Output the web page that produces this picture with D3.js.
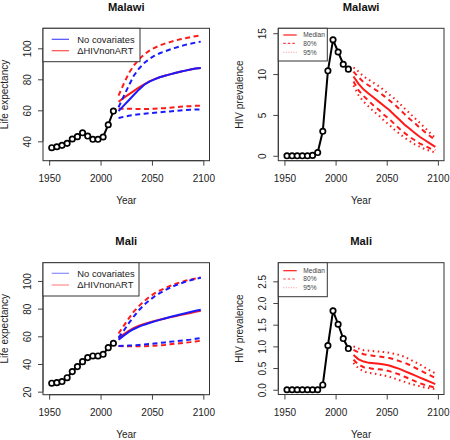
<!DOCTYPE html>
<html><head><meta charset="utf-8">
<script src="https://cdn.jsdelivr.net/npm/d3@7"></script>
<style>body{margin:0;background:#fff} svg{display:block}</style>
</head><body><svg id="c" width="450" height="440"></svg>
<script>
// ---------- data ----------
const obsYears  = [1952.5,1957.5,1962.5,1967.5,1972.5,1977.5,1982.5,1987.5,1992.5,1997.5,2002.5,2007.5,2012.5];
const projYears = [2017.5,2022.5,2027.5,2032.5,2037.5,2042.5,2047.5,2052.5,2057.5,2062.5,2067.5,2072.5,2077.5,2082.5,2087.5,2092.5,2097.5];
const xTicks = [1950,2000,2050,2100];

// Malawi life expectancy
const malawiLEObs = [35.9,36.5,37.4,38.7,41.5,43.0,45.5,43.4,41.3,41.3,42.8,50.7,59.5];
const malawiNoCovMed = [59.5,63.0,66.5,70.0,73.5,76.5,78.5,80.0,81.3,82.3,83.2,84.1,84.9,85.6,86.3,86.9,87.3];
const malawiNoCovUp  = [62.0,69.0,76.0,82.5,87.0,90.5,93.2,95.2,96.8,98.0,99.2,100.3,101.3,102.2,103.0,103.7,104.3];
const malawiNoCovLo  = [55.0,55.8,56.5,57.0,57.4,57.8,58.1,58.4,58.7,59.0,59.3,59.6,59.9,60.1,60.3,60.5,60.6];
const malawiHIVMed   = [65.5,68.0,70.3,72.5,74.8,76.8,78.7,80.1,81.3,82.3,83.2,84.1,84.9,85.6,86.3,86.9,87.3];
const malawiHIVUp    = [69.5,77.0,84.0,89.0,93.0,96.0,98.5,100.3,101.8,103.0,104.0,105.0,105.8,106.5,107.2,107.8,108.3];
const malawiHIVLo    = [61.0,61.0,61.0,60.9,60.8,60.8,60.9,61.0,61.2,61.4,61.7,62.0,62.3,62.5,62.7,62.9,63.0];
const leTicksMalawi = [40,60,80,100];

// Malawi HIV prevalence
const malawiPrevObs = [0,0,0,0,0,0.05,0.4,3.0,10.4,14.2,12.7,11.2,10.6];
const malawiPrevMed = [9.7,8.8,8.1,7.6,7.1,6.6,6.1,5.6,5.0,4.4,3.8,3.3,2.8,2.3,1.9,1.5,1.1];
const malawiPrevU80 = [10.3,9.6,9.0,8.6,8.2,7.8,7.3,6.8,6.3,5.7,5.1,4.5,4.0,3.4,2.9,2.4,1.9];
const malawiPrevL80 = [9.1,8.0,7.3,6.7,6.1,5.6,5.0,4.5,3.9,3.3,2.8,2.3,1.9,1.5,1.2,0.9,0.7];
const malawiPrevU95 = [10.8,10.3,9.7,9.3,8.9,8.5,8.0,7.5,7.0,6.4,5.8,5.2,4.6,4.0,3.4,2.8,2.2];
const malawiPrevL95 = [8.6,7.4,6.6,6.0,5.4,4.9,4.3,3.8,3.2,2.7,2.2,1.8,1.4,1.1,0.8,0.6,0.4];
const prevTicksMalawi = [0,5,10,15];
const prevTickLabelsMalawi = ["0","5","10","15"];

// Mali life expectancy
const maliLEObs = [26.1,26.5,27.3,30.1,34.5,38.1,41.7,44.6,45.8,45.8,47.0,51.8,55.0];
const maliNoCovMed = [57.5,60.5,63.2,65.3,67.0,68.4,69.6,70.8,71.9,72.9,73.9,74.9,75.8,76.7,77.6,78.4,79.2];
const maliNoCovUp  = [59.0,64.0,69.5,74.5,79.0,82.8,86.0,88.8,91.2,93.3,95.1,96.7,98.1,99.4,100.5,101.5,102.3];
const maliNoCovLo  = [53.0,53.1,53.3,53.5,53.8,54.1,54.4,54.8,55.2,55.6,56.0,56.4,56.8,57.2,57.6,58.2,58.8];
const maliHIVMed   = [58.5,61.5,64.0,66.0,67.6,68.9,70.0,71.0,72.0,72.9,73.7,74.5,75.3,76.1,76.9,77.7,78.5];
const maliHIVUp    = [62.0,67.5,73.0,78.0,82.0,85.5,88.5,91.0,93.0,94.8,96.4,97.8,99.0,100.1,101.0,101.8,102.5];
const maliHIVLo    = [53.0,52.9,52.8,52.8,52.8,52.9,53.0,53.2,53.5,53.8,54.2,54.6,55.0,55.4,55.8,56.3,56.8];
const leTicksMali = [20,40,60,80,100];

// Mali HIV prevalence
const maliPrevObs = [0,0,0,0,0,0,0,0.11,1.02,1.82,1.51,1.18,0.95];
const maliPrevMed = [0.80,0.70,0.65,0.62,0.61,0.60,0.58,0.56,0.52,0.48,0.43,0.38,0.33,0.28,0.23,0.18,0.13];
const maliPrevU80 = [0.92,0.86,0.82,0.80,0.78,0.77,0.75,0.73,0.70,0.66,0.62,0.57,0.51,0.45,0.39,0.33,0.27];
const maliPrevL80 = [0.69,0.58,0.52,0.50,0.48,0.47,0.46,0.43,0.39,0.35,0.30,0.25,0.20,0.15,0.11,0.08,0.05];
const maliPrevU95 = [1.00,0.95,0.91,0.90,0.89,0.88,0.87,0.85,0.83,0.80,0.76,0.70,0.64,0.58,0.51,0.44,0.38];
const maliPrevL95 = [0.62,0.49,0.42,0.39,0.37,0.35,0.33,0.30,0.26,0.22,0.18,0.14,0.11,0.08,0.05,0.03,0.02];
const prevTicksMali = [0,0.5,1,1.5,2,2.5];
const prevTickLabelsMali = ["0.0","0.5","1.0","1.5","2.0","2.5"];

const leLegendLabels = ["No covariates","\u0394HIVnonART"];
const prevLegendLabels = ["Median","80%","95%"];

// ---------- drawing ----------
const FONT = "'Liberation Sans', Arial, Helvetica, sans-serif";
const svg = d3.select("#c").style("font-family", FONT);
const BLUE = "#1a1aff", RED = "#ff1a1a", INK = "#222";

function panel(o) {
  const g = svg.append("g");
  const x = d3.scaleLinear().domain([1944, 2106]).range([o.l, o.r]);
  const y = d3.scaleLinear().domain(o.yDomain).range([o.b, o.t]);
  // x axis
  const xa = g.append("g").attr("transform", `translate(0,${o.b})`)
    .call(d3.axisBottom(x).tickValues(xTicks).tickSize(5).tickPadding(4).tickFormat(d3.format("d")));
  xa.select(".domain").attr("d", `M${x(xTicks[0])},0H${x(xTicks[xTicks.length-1])}`).attr("stroke", "#444");
  xa.selectAll(".tick line").attr("stroke", "#444");
  xa.selectAll("text").attr("font-size", 10).attr("fill", INK).attr("font-family", FONT)
    .attr("dy", null).attr("y", 21);
  // y axis
  const ya = g.append("g").attr("transform", `translate(${o.l},0)`)
    .call(d3.axisLeft(y).tickValues(o.yTicks).tickSize(5).tickFormat((d,i) => o.yLabels ? o.yLabels[i] : d));
  ya.select(".domain").attr("d", `M0,${y(o.yTicks[0])}V${y(o.yTicks[o.yTicks.length-1])}`).attr("stroke", "#444");
  ya.selectAll(".tick line").attr("stroke", "#444");
  ya.selectAll("text").attr("font-size", 10).attr("fill", INK).attr("font-family", FONT)
    .attr("x", null).attr("dy", null).attr("text-anchor", "middle")
    .attr("transform", "translate(-12,0) rotate(-90)");
  // box
  g.append("rect").attr("x", o.l).attr("y", o.t).attr("width", o.r - o.l).attr("height", o.b - o.t)
    .attr("fill", "none").attr("stroke", "#333").attr("stroke-width", 1);
  // titles
  g.append("text").attr("x", (o.l + o.r) / 2).attr("y", o.t - 17.8).attr("text-anchor", "middle")
    .attr("font-size", 11.2).attr("font-weight", "bold").attr("fill", "#111").text(o.title);
  g.append("text").attr("x", (o.l + o.r) / 2).attr("y", o.b + 43).attr("text-anchor", "middle")
    .attr("font-size", 10).attr("fill", INK).text("Year");
  g.append("text").attr("transform", `translate(${o.l - 35},${(o.t + o.b) / 2}) rotate(-90)`)
    .attr("text-anchor", "middle").attr("font-size", 10).attr("fill", INK).text(o.yTitle);
  return {g, x, y};
}

function drawLine(p, xs, ys, color, width, dash) {
  const line = d3.line().x(d => p.x(d[0])).y(d => p.y(d[1]));
  p.g.append("path").datum(d3.zip(xs, ys)).attr("d", line)
    .attr("fill", "none").attr("stroke", color).attr("stroke-width", width)
    .attr("stroke-dasharray", dash || null);
}

function drawObs(p, vals) {
  drawLine(p, obsYears, vals, "#000", 2);
  p.g.append("g").selectAll("circle").data(d3.zip(obsYears, vals)).join("circle")
    .attr("cx", d => p.x(d[0])).attr("cy", d => p.y(d[1])).attr("r", 2.7)
    .attr("fill", "#fff").attr("stroke", "#000").attr("stroke-width", 1.7);
}

function leLegend(p, o, colors) {
  const lg = p.g.append("g");
  lg.append("rect").attr("x", o.l).attr("y", o.t).attr("width", o.lw).attr("height", o.lh)
    .attr("fill", "#fff").attr("stroke", "#333").attr("stroke-width", 1);
  leLegendLabels.forEach((t, i) => {
    const yy = o.t + o.rows[i];
    lg.append("line").attr("x1", o.l + 8.7).attr("x2", o.l + 26).attr("y1", yy).attr("y2", yy)
      .attr("stroke", colors[i]).attr("stroke-width", 1.2);
    lg.append("text").attr("x", o.l + 34.3).attr("y", yy + 3.4).attr("font-size", 9.4).attr("fill", INK).text(t);
  });
}

function prevLegend(p, o) {
  const lg = p.g.append("g");
  lg.append("rect").attr("x", o.l).attr("y", o.t).attr("width", 49).attr("height", o.lh)
    .attr("fill", "#fff").attr("stroke", "#333").attr("stroke-width", 1);
  const styles = [[RED, null, 1.2], ["#ff4040", "2.5,2", 1.2], ["#ffaaaa", "1,1.5", 1.2]];
  prevLegendLabels.forEach((t, i) => {
    const yy = o.t + o.rows[i];
    lg.append("line").attr("x1", o.l + 5).attr("x2", o.l + 18.4).attr("y1", yy).attr("y2", yy)
      .attr("stroke", styles[i][0]).attr("stroke-width", styles[i][2]).attr("stroke-dasharray", styles[i][1]);
    lg.append("text").attr("x", o.l + 25).attr("y", yy + 2.3).attr("font-size", 6.6).attr("fill", "#444").text(t);
  });
}

const DASH = "5,3.5";

// Panel 1: Malawi LE
const o1 = {l: 43, r: 209.5, t: 28.3, b: 160.7, yDomain: [27.5, 112.9], yTicks: leTicksMalawi,
  title: "Malawi", yTitle: "Life expectancy", lw: 97, lh: 33.4, rows: [11, 22.4]};
const p1 = panel(o1);
drawObs(p1, malawiLEObs);
drawLine(p1, projYears, malawiHIVUp, RED, 2, DASH);
drawLine(p1, projYears, malawiHIVLo, RED, 2, DASH);
drawLine(p1, projYears, malawiHIVMed, RED, 2);
drawLine(p1, projYears, malawiNoCovUp, BLUE, 2, DASH);
drawLine(p1, projYears, malawiNoCovLo, BLUE, 2, DASH);
drawLine(p1, projYears, malawiNoCovMed, BLUE, 2);
leLegend(p1, o1, ["#4d4dff", "#ff4d4d"]);

// Panel 2: Malawi HIV prevalence
const o2 = {l: 278.3, r: 444, t: 28.3, b: 160.7, yDomain: [-0.6, 15.6], yTicks: prevTicksMalawi, yLabels: prevTickLabelsMalawi,
  title: "Malawi", yTitle: "HIV prevalence", lh: 32.7, rows: [6.7, 15, 24]};
const p2 = panel(o2);
drawObs(p2, malawiPrevObs);
drawLine(p2, projYears, malawiPrevU95, RED, 2, "1.5,3.5");
drawLine(p2, projYears, malawiPrevL95, RED, 2, "1.5,3.5");
drawLine(p2, projYears, malawiPrevU80, RED, 2, "5,4");
drawLine(p2, projYears, malawiPrevL80, RED, 2, "5,4");
drawLine(p2, projYears, malawiPrevMed, RED, 2);
prevLegend(p2, o2);

// Panel 3: Mali LE
const o3 = {l: 43, r: 209.5, t: 262.7, b: 394.7, yDomain: [17.8, 113.2], yTicks: leTicksMali,
  title: "Mali", yTitle: "Life expectancy", lw: 96, lh: 33.3, rows: [10.6, 22.3]};
const p3 = panel(o3);
drawObs(p3, maliLEObs);
drawLine(p3, projYears, maliHIVUp, RED, 2, DASH);
drawLine(p3, projYears, maliHIVLo, RED, 2, DASH);
drawLine(p3, projYears, maliHIVMed, RED, 2);
drawLine(p3, projYears, maliNoCovUp, BLUE, 2, DASH);
drawLine(p3, projYears, maliNoCovLo, BLUE, 2, DASH);
drawLine(p3, projYears, maliNoCovMed, BLUE, 2);
leLegend(p3, o3, ["#8c8cff", "#ff8c8c"]);

// Panel 4: Mali HIV prevalence
const o4 = {l: 278.3, r: 444, t: 262.7, b: 394.5, yDomain: [-0.11, 2.93], yTicks: prevTicksMali, yLabels: prevTickLabelsMali,
  title: "Mali", yTitle: "HIV prevalence", lh: 34, rows: [8, 16.3, 25]};
const p4 = panel(o4);
drawObs(p4, maliPrevObs);
drawLine(p4, projYears, maliPrevU95, RED, 2, "1.5,3.5");
drawLine(p4, projYears, maliPrevL95, RED, 2, "1.5,3.5");
drawLine(p4, projYears, maliPrevU80, RED, 2, "5,4");
drawLine(p4, projYears, maliPrevL80, RED, 2, "5,4");
drawLine(p4, projYears, maliPrevMed, RED, 2);
prevLegend(p4, o4);
</script>
</body></html>
